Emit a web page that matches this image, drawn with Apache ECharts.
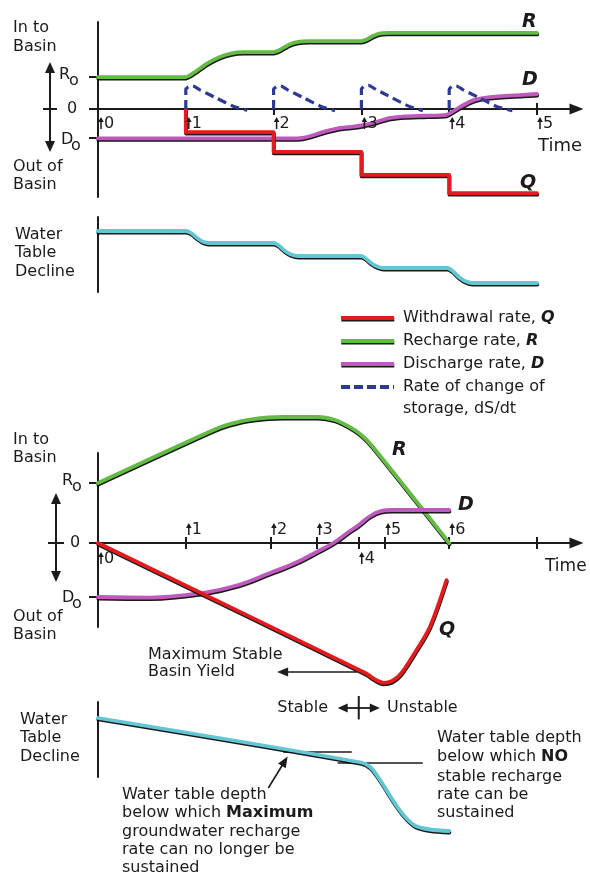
<!DOCTYPE html>
<html><head><meta charset="utf-8">
<script src="https://cdn.jsdelivr.net/npm/echarts@6/dist/echarts.min.js"></script>
<style>html,body{margin:0;padding:0;background:#fff}#c{width:590px;height:876px}</style>
</head><body><div id="c"></div>
<script>
// ================= DATA (time units, rate units) =================
// Upper diagram: step increases of pumping
const topLabelTimes = [0, 1, 2, 3, 4, 5];
const topLabelText  = ['0', '1', '2', '3', '4', '5'];
const topTicks      = [1, 2, 3, 4, 5];
const topRefValues  = [1, 0, -0.9];          // R0, 0, D0

const R_top = [[0,1],[1,1],[1.1,1.15],[1.24,1.42],[1.38,1.62],[1.52,1.74],[1.65,1.78],[2.0,1.78],[2.08,1.86],[2.18,2.02],[2.28,2.1],[2.4,2.12],[3.0,2.12],[3.06,2.17],[3.13,2.28],[3.2,2.36],[3.3,2.38],[5.0,2.38]];
const D_top = [[0,-0.92],[2.2,-0.92],[2.33,-0.9],[2.45,-0.82],[2.56,-0.72],[2.76,-0.59],[2.9,-0.55],[3.0,-0.51],[3.13,-0.43],[3.33,-0.28],[3.5,-0.23],[3.7,-0.21],[3.97,-0.18],[4.12,0.06],[4.27,0.27],[4.46,0.37],[4.84,0.44],[5.0,0.47]];
const Q_top = [[1,0],[1,-0.72],[2,-0.72],[2,-1.34],[3,-1.34],[3,-2.06],[4,-2.06],[4,-2.63],[5,-2.63]];
const dS_top = [
  [1,0],[1,0.6],[1.03,0.69],[1.08,0.72],[1.16,0.6],[1.35,0.34],[1.54,0.09],[1.7,-0.04],[1.8,'-'],
  [2,0],[2,0.6],[2.03,0.69],[2.08,0.72],[2.16,0.6],[2.35,0.34],[2.54,0.08],[2.7,-0.05],[2.8,'-'],
  [3,0],[3,0.62],[3.03,0.71],[3.08,0.74],[3.16,0.62],[3.35,0.35],[3.54,0.09],[3.7,-0.05],[3.8,'-'],
  [4,0],[4,0.6],[4.03,0.7],[4.08,0.72],[4.16,0.6],[4.35,0.34],[4.54,0.08],[4.72,-0.05]
];
// water-table decline (downward units)
const WT_top = [[0,1.4],[1.0,1.4],[1.06,1.6],[1.13,2.1],[1.19,2.45],[1.26,2.6],[2.0,2.6],[2.06,2.85],[2.13,3.4],[2.2,3.75],[2.28,3.9],[3.0,3.9],[3.05,4.15],[3.12,4.65],[3.18,4.95],[3.25,5.1],[3.98,5.1],[4.04,5.4],[4.11,6.0],[4.18,6.4],[4.26,6.6],[5.0,6.6]];

// Lower diagram: continuously increasing pumping
const botLabelTimes = [0, 1, 1.97, 2.49, 2.97, 3.27, 4.0];
const botLabelText  = ['0', '1', '2', '3', '4', '5', '6'];
const botTicks      = [1, 1.97, 2.49, 2.97, 3.27, 4.0, 5.0];
const botRefValues  = [1, 0, -0.9];

const R_bot = [[0,1.0],[1.31,1.88],[1.5,1.98],[1.75,2.06],[2.1,2.1],[2.5,2.1],[2.7,2.05],[2.87,1.93],[3.0,1.8],[3.12,1.62],[4.0,0.0]];
const D_bot = [[0,-0.9],[0.6,-0.91],[1.2,-0.83],[1.6,-0.7],[1.96,-0.5],[2.25,-0.33],[2.49,-0.15],[2.68,0.0],[2.85,0.18],[2.97,0.3],[3.1,0.45],[3.22,0.53],[3.35,0.55],[4.0,0.55]];
const Q_bot = [[0,0],[3.05,-2.17],[3.15,-2.27],[3.25,-2.33],[3.35,-2.3],[3.45,-2.18],[3.6,-1.85],[3.78,-1.4],[3.97,-0.62]];
const WT_bot = [[0,1.6],[3.0,6.05],[3.1,6.5],[3.19,7.5],[3.41,10.5],[3.52,11.7],[3.62,12.4],[3.78,12.75],[4.0,12.9]];
const WT_refA = [[2.11,5.0],[2.89,5.0]];   // depth: max recharge no longer sustained
const WT_refB = [[2.73,6.1],[3.70,6.1]];   // depth: no stable recharge

// annotation arrows (data coordinates of their panels)
const yieldArrow  = [[2.95,-2.15],[2.04,-2.15]];
const stableArrow = [[2.73,-2.75],[3.21,-2.75]];
const stableBar   = [[2.97,-2.55],[2.97,-2.94]];
const wtArrow     = [[1.94,8.6],[2.16,5.45]];

// ================= STYLE / LAYOUT =================
const FONT = 'DejaVu Sans';
const INK = '#1b1b1b';
const COL = {q:'#e31b1f', r:'#63bb45', d:'#bd5abb', s:'#2c3a93', w:'#62c6d3'};
const SH = {shadowColor:'rgba(0,0,0,0.9)', shadowBlur:0, shadowOffsetX:0.3, shadowOffsetY:1.5};
const XMAX = 5.45, LEFT = 98, WIDTH = 478.5;
const GRIDS = [
  {top:22,  height:175, min:-2.75, max:2.72},
  {top:217, height:75,  min:0, max:7.5},
  {top:453, height:174, min:-1.4, max:1.5},
  {top:702, height:75,  min:0, max:7.5}
];

const chart = echarts.init(document.getElementById('c'));

function xAx(grid, ticks, pos, showLine, show, offset) {
  return {
    gridIndex: grid, type:'value', min:0, max:XMAX, show: show !== false, position: pos, offset: offset || 0,
    axisLine:{show:showLine, onZero: !offset, symbol:['none','triangle'], symbolSize:[11,14],
      lineStyle:{color:INK, width:2}},
    axisTick:{show: !!ticks, customValues: ticks || [], length:6, inside:false, lineStyle:{color:INK, width:2}},
    axisLabel:{show:false}, splitLine:{show:false}
  };
}
function yAx(grid, ticks, inverse) {
  const g = GRIDS[grid];
  return {
    gridIndex: grid, type:'value', min:g.min, max:g.max, inverse: !!inverse,
    axisLine:{show:true, onZero:false, lineStyle:{color:INK, width:2}},
    axisTick:{show: !!ticks, customValues: ticks || [], length:9, inside:false, lineStyle:{color:INK, width:2}},
    axisLabel:{show:false}, splitLine:{show:false}
  };
}
function zeroOffset(grid) {            // offset of a 'top' axis so that it sits on value 0
  const g = GRIDS[grid];
  return -g.height * g.max / (g.max - g.min);
}
function ln(name, data, color, xi, yi, extra) {
  return Object.assign({
    name, type:'line', data, xAxisIndex:xi, yAxisIndex:yi, symbol:'none', clip:false,
    smooth:0.2, silent:true, animation:false,
    lineStyle:Object.assign({color, width:3.8, cap:'round', join:'round'}, SH)
  }, extra || {});
}

const option = {
  animation:false,
  backgroundColor:'#fff',
  grid: GRIDS.map(g => ({left:LEFT, top:g.top, width:WIDTH, height:g.height, outerBoundsMode:'none'})),
  xAxis:[
    xAx(0, topTicks, 'bottom', true),
    xAx(0, topTicks, 'top', false, true, zeroOffset(0)),
    xAx(1, null, 'bottom', false, false),
    xAx(2, botTicks, 'bottom', true),
    xAx(2, botTicks, 'top', false, true, zeroOffset(2)),
    xAx(3, null, 'bottom', false, false)
  ],
  yAxis:[
    yAx(0, topRefValues),
    yAx(1, null, true),
    yAx(2, botRefValues),
    yAx(3, null, true)
  ],
  series:[
    ln('Recharge rate, R', R_top, COL.r, 0, 0),
    ln('Discharge rate, D', D_top, COL.d, 0, 0),
    ln('Withdrawal rate, Q', Q_top, COL.q, 0, 0, {smooth:false}),
    ln('Rate of change of storage, dS/dt', dS_top, COL.s, 0, 0,
       {connectNulls:false, lineStyle:{color:COL.s, width:3.2, type:[9,5]}}),
    ln('Water table (steps)', WT_top, COL.w, 2, 1),
    ln('Recharge rate, R ', R_bot, COL.r, 3, 2, {smooth:0.3}),
    ln('Discharge rate, D ', D_bot, COL.d, 3, 2, {smooth:0.4}),
    ln('Withdrawal rate, Q ', Q_bot, COL.q, 3, 2, {smooth:0.3}),
    ln('refA', WT_refA, INK, 5, 3, {smooth:false, lineStyle:{color:INK, width:1.3}}),
    ln('refB', WT_refB, INK, 5, 3, {smooth:false, lineStyle:{color:INK, width:1.3}}),
    ln('Water table (continuous)', WT_bot, COL.w, 5, 3, {smooth:0.3})
  ]
};
chart.setOption(option);

// ================= TEXT & DECORATION =================
const G = [];
function T(x, y, s, o) {
  G.push({type:'text', x, y, silent:true, z:50, style:Object.assign({
    text:s, fill:INK, fontFamily:FONT, fontSize:16, align:'left', verticalAlign:'middle',
    rich:{b:{fontFamily:FONT, fontSize:16, fontWeight:'bold', fill:INK},
          bi:{fontFamily:FONT, fontSize:16, fontWeight:'bold', fontStyle:'italic', fill:INK}}
  }, o || {})});
}
function L(x1, y1, x2, y2, w, extra) {
  G.push({type:'line', silent:true, z:50, shape:{x1,y1,x2,y2},
    style:Object.assign({stroke:INK, lineWidth:w || 2}, extra || {})});
}
function head(tx, ty, dx, dy, len, hw) {
  const bx = tx - dx*len, by = ty - dy*len, px = -dy, py = dx;
  G.push({type:'polygon', silent:true, z:50, shape:{points:[[tx,ty],[bx+px*hw,by+py*hw],[bx-px*hw,by-py*hw]]},
    style:{fill:INK}});
}
function arrow(p0, p1, w, len, hw, both) {
  const dx = p1[0]-p0[0], dy = p1[1]-p0[1], d = Math.hypot(dx, dy), ux = dx/d, uy = dy/d;
  L(p0[0] + (both ? ux*len*0.8 : 0), p0[1] + (both ? uy*len*0.8 : 0), p1[0]-ux*len*0.8, p1[1]-uy*len*0.8, w);
  head(p1[0], p1[1], ux, uy, len, hw);
  if (both) head(p0[0], p0[1], -ux, -uy, len, hw);
}
function tickLabel(x, y, s) {
  L(x+3, y+6, x+3, y-2, 1.5);
  head(x+3, y-6, 0, -1, 5, 2.8);
  T(x+6, y+0.5, s, {fontSize:16});
}
function bigLabel(x, y, s) {
  T(x, y, s, {fontSize:19, fontWeight:'bold', fontStyle:'italic'});
}
function updown(x, yTop, yBot, yMid, half) {
  L(x, yTop+8, x, yBot-8, 2);
  head(x, yTop, 0, -1, 11, 5);
  head(x, yBot, 0, 1, 11, 5);
  L(x-half, yMid, x+half, yMid, 2);
}
function pix(grid, t, v) { return chart.convertToPixel({gridIndex:grid}, [t, v]); }

// --- upper diagram ---
T(13, 28, 'In to'); T(13, 47, 'Basin');
T(13, 167, 'Out of'); T(13, 185, 'Basin');
updown(50, 62, 152, pix(0,0,0)[1], 7);
{
  const yR = pix(0,0,topRefValues[0])[1], y0 = pix(0,0,0)[1], yD = pix(0,0,topRefValues[2])[1];
  T(59, yR-2, 'R', {fontSize:16}); T(69, yR+4, 'o', {fontSize:16});
  T(67, y0, '0', {fontSize:16});
  T(61, yD+2, 'D', {fontSize:16}); T(71, yD+8, 'o', {fontSize:16});
}
topLabelTimes.forEach((t, i) => {
  const p = pix(0, t, 0);
  tickLabel(p[0], p[1] + 14, topLabelText[i]);
});
T(538, 146, 'Time', {fontSize:18});
bigLabel(522, 22, 'R');
bigLabel(522, 80, 'D');
bigLabel(520, 183, 'Q');
T(15, 235, 'Water'); T(15, 253, 'Table'); T(15, 272, 'Decline');

// --- legend ---
const legRows = [318, 341, 364, 387];
const legCols = [COL.q, COL.r, COL.d];
legCols.forEach((c, i) => L(341, legRows[i], 394, legRows[i], 4, Object.assign({stroke:c}, SH)));
L(341, legRows[3], 394, legRows[3], 4, {stroke:COL.s, lineDash:[9,4]});
T(403, legRows[0], 'Withdrawal rate, {bi|Q}');
T(403, legRows[1], 'Recharge rate, {bi|R}');
T(403, legRows[2], 'Discharge rate, {bi|D}');
T(403, legRows[3], 'Rate of change of');
T(403, 409, 'storage, dS/dt');

// --- lower diagram ---
T(13, 440, 'In to'); T(13, 458, 'Basin');
T(13, 617, 'Out of'); T(13, 635, 'Basin');
updown(56, 493, 582, pix(2,0,0)[1], 8);
{
  const yR = pix(2,0,botRefValues[0])[1], y0 = pix(2,0,0)[1], yD = pix(2,0,botRefValues[2])[1];
  T(62, yR-2, 'R', {fontSize:16}); T(72, yR+4, 'o', {fontSize:16});
  T(70, y0, '0', {fontSize:16});
  T(62, yD+1, 'D', {fontSize:16}); T(72, yD+7, 'o', {fontSize:16});
}
const belowSet = new Set(['0', '4']);
botLabelTimes.forEach((t, i) => {
  const p = pix(2, t, 0);
  const s = botLabelText[i];
  tickLabel(p[0], belowSet.has(s) ? p[1] + 15 : p[1] - 14, s);
});
T(545, 567, 'Time', {fontSize:17});
bigLabel(392, 450, 'R');
bigLabel(458, 505, 'D');
bigLabel(439, 630, 'Q');
T(148, 655, 'Maximum Stable'); T(148, 672, 'Basin Yield');
arrow(pix(2, yieldArrow[0][0], yieldArrow[0][1]), pix(2, yieldArrow[1][0], yieldArrow[1][1]), 1.6, 11, 4.5, false);
T(328, 708, 'Stable', {align:'right'});
T(387, 708, 'Unstable');
arrow(pix(2, stableArrow[0][0], stableArrow[0][1]), pix(2, stableArrow[1][0], stableArrow[1][1]), 1.8, 10, 4.5, true);
{
  const a = pix(2, stableBar[0][0], stableBar[0][1]), b = pix(2, stableBar[1][0], stableBar[1][1]);
  L(a[0], a[1], b[0], b[1], 2);
}
T(20, 720, 'Water'); T(20, 738, 'Table'); T(20, 757, 'Decline');
arrow(pix(3, wtArrow[0][0], wtArrow[0][1]), pix(3, wtArrow[1][0], wtArrow[1][1]), 1.6, 11, 4.5, false);
T(437, 738, 'Water table depth');
T(437, 757, 'below which {b|NO}');
T(437, 777, 'stable recharge');
T(437, 795, 'rate can be');
T(437, 813, 'sustained');
T(122, 795, 'Water table depth');
T(122, 813, 'below which {b|Maximum}');
T(122, 832, 'groundwater recharge');
T(122, 850, 'rate can no longer be');
T(122, 868, 'sustained');

chart.setOption({graphic: G});
</script>
</body></html>
